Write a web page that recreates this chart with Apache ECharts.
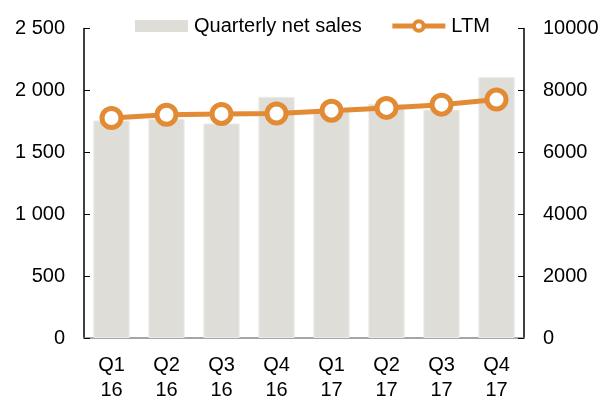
<!DOCTYPE html>
<html><head><meta charset="utf-8">
<script src="https://cdn.jsdelivr.net/npm/echarts@6/dist/echarts.min.js"></script>
<style>html,body{margin:0;padding:0;background:#fff}#c{width:604px;height:403px}</style>
</head><body><div id="c"></div>
<script>
const categories = ['Q1\n16','Q2\n16','Q3\n16','Q4\n16','Q1\n17','Q2\n17','Q3\n17','Q4\n17'];
const quarterlySales = [1757, 1770, 1733, 1948, 1830, 1892, 1845, 2107];
const ltm = [7110, 7215, 7240, 7255, 7345, 7435, 7540, 7705];
const leftTicks = [0, 500, 1000, 1500, 2000, 2500];
const rightTicks = [0, 2000, 4000, 6000, 8000, 10000];

const font = 'Liberation Sans, Arial, sans-serif';
const orange = '#e38a35';
const fs = 20;
const chart = echarts.init(document.getElementById('c'));
chart.setOption({
  animation: false,
  textStyle: {fontFamily: font},
  grid: {left: 84, right: 80, top: 28.5, bottom: 60},
  legend: {
    top: 11, left: 130, itemGap: 28,
    textStyle: {fontSize: fs, color: '#000', fontFamily: font, padding: [0, 0, 0, 1]},
    data: [
      {name: 'Quarterly net sales', icon: 'rect', itemStyle: {color: '#dfddd8', borderWidth: 0}},
      {name: 'LTM', lineStyle: {width: 5, color: orange}, itemStyle: {color: '#fff', borderColor: orange, borderWidth: 4}}
    ],
    itemWidth: 53, itemHeight: 12
  },
  xAxis: {
    type: 'category', data: categories,
    axisLine: {lineStyle: {color: '#888', width: 1.5}},
    axisTick: {inside: true, length: 6, lineStyle: {color: '#888'}},
    axisLabel: {fontSize: fs, color: '#000', lineHeight: 25, margin: 15, fontFamily: font}
  },
  yAxis: [
    {
      type: 'value', min: leftTicks[0], max: leftTicks[leftTicks.length-1], interval: 500,
      splitLine: {show: false},
      axisLine: {show: true, lineStyle: {color: '#000', width: 1.5}},
      axisTick: {show: true, inside: true, length: 6, lineStyle: {color: '#000'}},
      axisLabel: {fontSize: fs, color: '#000', margin: 19, fontFamily: font,
        formatter: v => String(v).replace(/\B(?=(\d{3})+(?!\d))/g, ' ')}
    },
    {
      type: 'value', min: rightTicks[0], max: rightTicks[rightTicks.length-1], interval: 2000,
      splitLine: {show: false},
      axisLine: {show: true, lineStyle: {color: '#000', width: 1.5}},
      axisTick: {show: true, inside: true, length: 6, lineStyle: {color: '#000'}},
      axisLabel: {fontSize: fs, color: '#000', margin: 19, fontFamily: font,
        formatter: v => String(v)}
    }
  ],
  series: [
    {
      name: 'Quarterly net sales', type: 'bar', data: quarterlySales,
      barCategoryGap: '34%',
      itemStyle: {color: '#dfddd8', borderColor: '#ecebe8', borderWidth: 1}
    },
    {
      name: 'LTM', type: 'line', yAxisIndex: 1, data: ltm,
      symbol: 'circle', symbolSize: 19,
      lineStyle: {color: orange, width: 5},
      itemStyle: {color: '#fff', borderColor: orange, borderWidth: 5}
    }
  ]
});
</script></body></html>
